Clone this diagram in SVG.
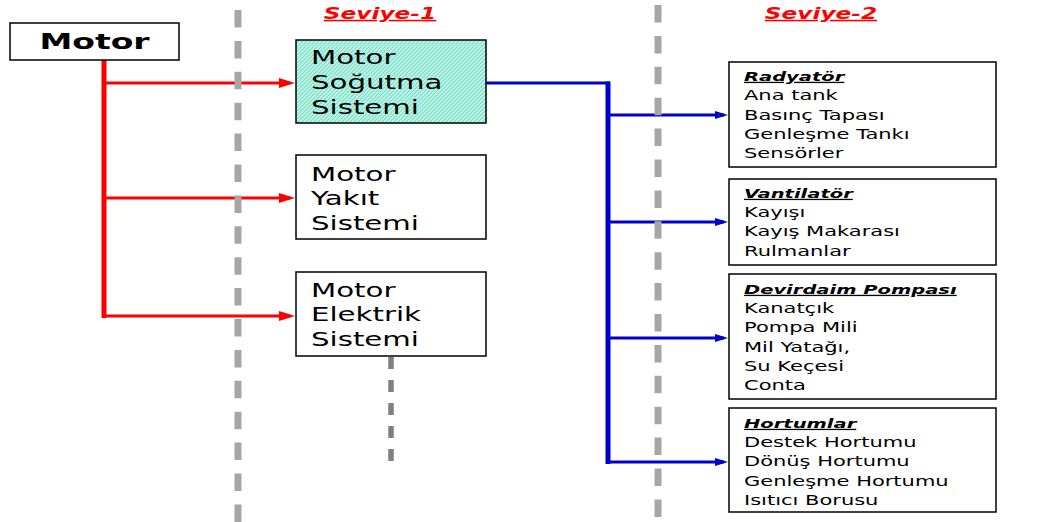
<svg xmlns="http://www.w3.org/2000/svg" width="1041" height="522" viewBox="0 0 1041 522">
<style>
text{font-family:"DejaVu Sans","Verdana",sans-serif;fill:#000}
.box{fill:#fff;stroke:#000;stroke-width:1.5}
.l1{font-size:19.5px}
.lst{font-size:14px}
.ttl{font-size:13px;font-weight:bold;font-style:italic;text-decoration:underline}
.lvl{font-size:15.5px;font-weight:bold;font-style:italic;text-decoration:underline;fill:#ff0000}
.red{stroke:#ff0000;fill:none}
.blue{stroke:#0000cc;fill:none}
.guide{stroke:#a6a6a6;stroke-width:7;stroke-dasharray:17.5 13.4;fill:none}
</style>
<defs>
<pattern id="hatch" width="4" height="4" patternUnits="userSpaceOnUse">
<rect width="4" height="4" fill="#bff5e8"/>
<path d="M-1,1 l2,-2 M0,4 l4,-4 M3,5 l2,-2" stroke="#7fdcc8" stroke-width="1.2"/>
</pattern>
<marker id="ahRed" markerUnits="userSpaceOnUse" markerWidth="16" markerHeight="10" refX="11" refY="5" orient="auto">
<path d="M0,0 L16,5 L0,10 z" fill="#ff0000"/>
</marker>
<marker id="ahBlue" markerUnits="userSpaceOnUse" markerWidth="13" markerHeight="8" refX="9" refY="4" orient="auto">
<path d="M0,0 L13,4 L0,8 z" fill="#0000cc"/>
</marker>
</defs>

<g id="connectors">
<path class="red" stroke-width="5" d="M104,60 V318"/>
<path class="red" stroke-width="3" d="M104,83 H290" marker-end="url(#ahRed)"/>
<path class="red" stroke-width="3" d="M104,198 H290" marker-end="url(#ahRed)"/>
<path class="red" stroke-width="3" d="M102,316 H290" marker-end="url(#ahRed)"/>
<path class="blue" stroke-width="3" d="M486,83 H610"/>
<path class="blue" stroke-width="5" d="M608,81.5 V464"/>
<path class="blue" stroke-width="3" d="M608,115 H724" marker-end="url(#ahBlue)"/>
<path class="blue" stroke-width="3" d="M608,222 H724" marker-end="url(#ahBlue)"/>
<path class="blue" stroke-width="3" d="M608,338 H724" marker-end="url(#ahBlue)"/>
<path class="blue" stroke-width="3" d="M606,462 H724" marker-end="url(#ahBlue)"/>
</g>

<g id="guides">
<path class="guide" d="M238,10 V522"/>
<path class="guide" d="M658,5 V522"/>
<path d="M391,357 V463" stroke="#808080" stroke-width="5.5" stroke-dasharray="12 11" fill="none"/>
</g>

<g id="level-labels">
<text class="lvl" transform="matrix(1.5 0 0 1 380 19)" text-anchor="middle">Seviye-1</text>
<text class="lvl" transform="matrix(1.5 0 0 1 821 19)" text-anchor="middle">Seviye-2</text>
</g>

<g id="motor">
<rect class="box" x="10" y="23" width="169" height="37"/>
<text transform="matrix(1.5 0 0 1 94.5 49)" text-anchor="middle" font-size="22" font-weight="bold">Motor</text>
</g>

<g id="sogutma">
<rect x="296" y="40" width="190" height="83" fill="url(#hatch)" stroke="#000" stroke-width="1.5"/>
<text class="l1" transform="matrix(1.5 0 0 1 311 63.5)"><tspan x="0" y="0">Motor</tspan><tspan x="0" y="25.5">Soğutma</tspan><tspan x="0" y="51">Sistemi</tspan></text>
</g>

<g id="yakit">
<rect class="box" x="296" y="155" width="190" height="84"/>
<text class="l1" transform="matrix(1.5 0 0 1 311 181)"><tspan x="0" y="0">Motor</tspan><tspan x="0" y="24.5">Yakıt</tspan><tspan x="0" y="49">Sistemi</tspan></text>
</g>

<g id="elektrik">
<rect class="box" x="296" y="272" width="190" height="84"/>
<text class="l1" transform="matrix(1.5 0 0 1 311 296.5)"><tspan x="0" y="0">Motor</tspan><tspan x="0" y="25">Elektrik</tspan><tspan x="0" y="50">Sistemi</tspan></text>
</g>

<g id="radyator">
<rect class="box" x="729" y="62" width="267" height="105"/>
<text class="ttl" transform="matrix(1.5 0 0 1 744 81)">Radyatör</text>
<text class="lst" transform="matrix(1.5 0 0 1 744 81)"><tspan x="0" y="19.3">Ana tank</tspan><tspan x="0" y="38.6">Basınç Tapası</tspan><tspan x="0" y="57.9">Genleşme Tankı</tspan><tspan x="0" y="77.2">Sensörler</tspan></text>
</g>

<g id="vantilator">
<rect class="box" x="729" y="179" width="267" height="86"/>
<text class="ttl" transform="matrix(1.5 0 0 1 744 198)">Vantilatör</text>
<text class="lst" transform="matrix(1.5 0 0 1 744 198)"><tspan x="0" y="19.2">Kayışı</tspan><tspan x="0" y="38.4">Kayış Makarası</tspan><tspan x="0" y="57.6">Rulmanlar</tspan></text>
</g>

<g id="devirdaim">
<rect class="box" x="729" y="274" width="267" height="125"/>
<text class="ttl" transform="matrix(1.5 0 0 1 744 294)">Devirdaim Pompası</text>
<text class="lst" transform="matrix(1.5 0 0 1 744 294)"><tspan x="0" y="19.2">Kanatçık</tspan><tspan x="0" y="38.4">Pompa Mili</tspan><tspan x="0" y="57.6">Mil Yatağı,</tspan><tspan x="0" y="76.8">Su Keçesi</tspan><tspan x="0" y="96">Conta</tspan></text>
</g>

<g id="hortumlar">
<rect class="box" x="729" y="408" width="267" height="104"/>
<text class="ttl" transform="matrix(1.5 0 0 1 744 428)">Hortumlar</text>
<text class="lst" transform="matrix(1.5 0 0 1 744 428)"><tspan x="0" y="19.2">Destek Hortumu</tspan><tspan x="0" y="38.4">Dönüş Hortumu</tspan><tspan x="0" y="57.6">Genleşme Hortumu</tspan><tspan x="0" y="76.8">Isıtıcı Borusu</tspan></text>
</g>
</svg>
